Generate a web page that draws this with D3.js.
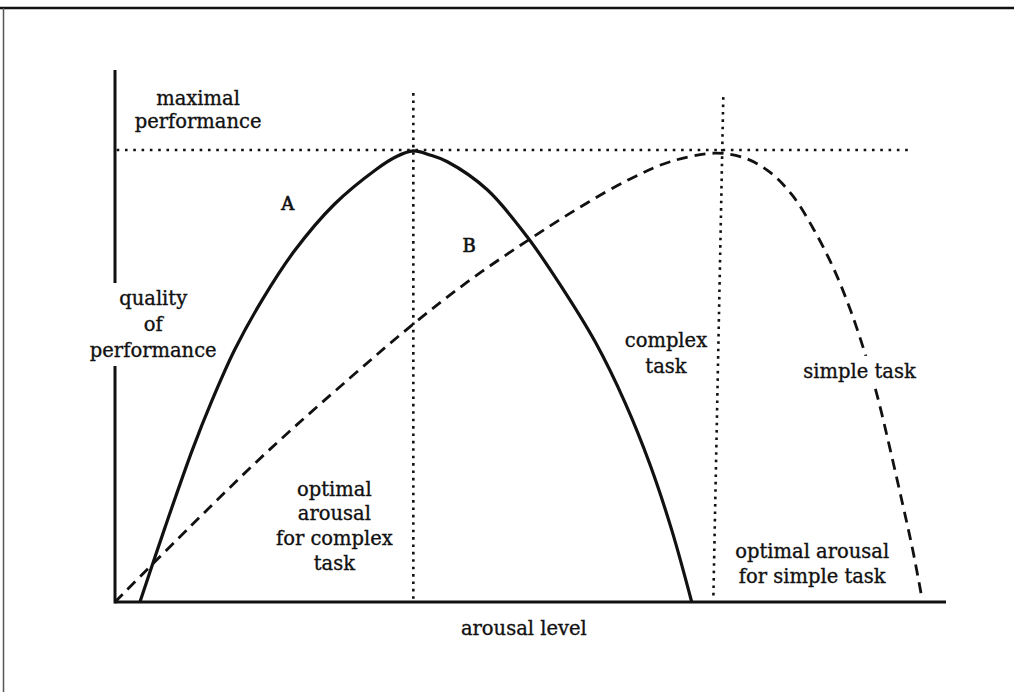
<!DOCTYPE html>
<html>
<head>
<meta charset="utf-8">
<script src="https://cdn.jsdelivr.net/npm/d3@7"></script>
<style>
  html, body { margin: 0; padding: 0; background: #fff; }
  svg text { font-family: "DejaVu Serif", "Liberation Serif", serif; fill: #111; stroke: #111; stroke-width: 0.35px; }
</style>
</head>
<body>
<svg id="chart" width="1014" height="692"></svg>
<script>
// ---- data (arousal level 0-100, quality of performance 0-100 = maximal) ----
const complexArousal = [3.0, 6.0, 9.3, 11.7, 14.4, 17.7, 21.6, 26.4, 31.5, 33.7, 35.9, 37.9, 40.0, 44.8, 49.6, 53.6, 57.8, 61.4, 64.4, 67.0, 69.4];
const complexQuality = [0, 16.4, 33.6, 44.7, 55.8, 66.8, 77.7, 88.0, 95.8, 98.4, 99.8, 98.9, 97.4, 91.2, 80.8, 70.1, 57.5, 44.0, 30.3, 15.9, 0];

const simpleArousal = [0, 9.0, 18.3, 28.3, 35.9, 42.7, 49.6, 56.0, 62.0, 66.8, 72.2, 75.8, 78.8, 81.5, 84.0, 86.4, 88.5, 90.3, 91.8, 93.3, 94.8, 96.0, 97.1];
const simpleQuality = [0, 16.6, 33.2, 49.6, 61.5, 71.2, 79.9, 87.4, 93.6, 97.4, 99.3, 98.2, 95.1, 90.0, 82.7, 74.1, 64.6, 54.7, 45.1, 33.6, 21.5, 11.5, 0.9];

const maximalLevel = 100;
const maxLineExtent = [0.2, 95.4];
const optimalComplex = { top: [35.9, 112.6], bottom: [35.9, 0] };
const optimalSimple = { top: [73.2, 111.7], bottom: [72.0, 0.4] };
const yAxisExtent = [0, 117.7];
const xAxisExtent = [0, 100];

const labels = [
  { lines: ["maximal", "performance"], x: 10.0, y: 110.0, dy: 5.1 },
  { lines: ["A"], x: 20.8, y: 86.7, dy: 0, size: 18, bold: true },
  { lines: ["B"], x: 42.6, y: 77.4, dy: 0, size: 18, bold: true },
  { lines: ["quality", "of", "performance"], x: 4.6, y: 65.7, dy: 5.75, mask: true },
  { lines: ["optimal", "arousal", "for complex", "task"], x: 26.4, y: 23.5, dy: 5.45 },
  { lines: ["complex", "task"], x: 66.3, y: 56.4, dy: 5.75 },
  { lines: ["simple task"], x: 89.6, y: 49.6, dy: 0, mask: true },
  { lines: ["optimal arousal", "for simple task"], x: 83.9, y: 9.7, dy: 5.5 },
  { lines: ["arousal level"], x: 49.2, y: -7.3, dy: 0 }
];

// ---- drawing ----
const svg = d3.select("#chart");
const W = 1014, H = 692;
const x = d3.scaleLinear().domain([0, 100]).range([115, 946]);
const y = d3.scaleLinear().domain([0, 100]).range([602, 150]);

// frame (scanned page border: top and left)
svg.append("line").attr("x1", 0).attr("x2", W).attr("y1", 8).attr("y2", 8)
  .attr("stroke", "#111").attr("stroke-width", 2.5);
svg.append("line").attr("x1", 3.5).attr("x2", 3.5).attr("y1", 8).attr("y2", H)
  .attr("stroke", "#555").attr("stroke-width", 1.5);

// axes
svg.append("line")
  .attr("x1", x(0)).attr("x2", x(0))
  .attr("y1", y(yAxisExtent[0]) + 1.5).attr("y2", y(yAxisExtent[1]))
  .attr("stroke", "#111").attr("stroke-width", 3);
svg.append("line")
  .attr("x1", x(xAxisExtent[0])).attr("x2", x(xAxisExtent[1]))
  .attr("y1", y(0)).attr("y2", y(0))
  .attr("stroke", "#111").attr("stroke-width", 3);

// dotted reference lines
const dotted = (x1, y1, x2, y2, sp) => svg.append("line")
  .attr("x1", x(x1)).attr("y1", y(y1)).attr("x2", x(x2)).attr("y2", y(y2))
  .attr("stroke", "#111").attr("stroke-width", 2.6)
  .attr("stroke-dasharray", sp);
dotted(maxLineExtent[0], maximalLevel, maxLineExtent[1], maximalLevel, "2.6,5.7");
dotted(optimalComplex.top[0], optimalComplex.top[1], optimalComplex.bottom[0], optimalComplex.bottom[1], "2.6,4.8");
dotted(optimalSimple.top[0], optimalSimple.top[1], optimalSimple.bottom[0], optimalSimple.bottom[1], "2.6,4.8");

const line = d3.line().x(d => x(d[0])).y(d => y(d[1])).curve(d3.curveCatmullRom.alpha(0.5));

// simple task (dashed)
svg.append("path")
  .datum(d3.zip(simpleArousal, simpleQuality))
  .attr("d", line)
  .attr("fill", "none").attr("stroke", "#111").attr("stroke-width", 2.8)
  .attr("stroke-dasharray", "11,7");

// complex task (solid)
svg.append("path")
  .datum(d3.zip(complexArousal, complexQuality))
  .attr("d", line)
  .attr("fill", "none").attr("stroke", "#111").attr("stroke-width", 3.2)
  .attr("stroke-linejoin", "round");

// labels
labels.forEach(l => {
  const g = svg.append("g");
  const fs = l.size || 19.5;
  const t = g.append("text")
    .attr("text-anchor", "middle")
    .style("font-size", fs + "px")
    .style("stroke-width", l.bold ? "0.7px" : null);
  l.lines.forEach((s, i) => {
    t.append("tspan")
      .attr("x", x(l.x))
      .attr("y", y(l.y - i * l.dy))
      .text(s);
  });
  if (l.mask) {
    const bb = t.node().getBBox();
    g.insert("rect", "text")
      .attr("x", bb.x - 2).attr("y", bb.y - 4)
      .attr("width", bb.width + 4).attr("height", bb.height + 8)
      .attr("fill", "#fff").attr("stroke", "none");
  }
});
</script>
</body>
</html>
